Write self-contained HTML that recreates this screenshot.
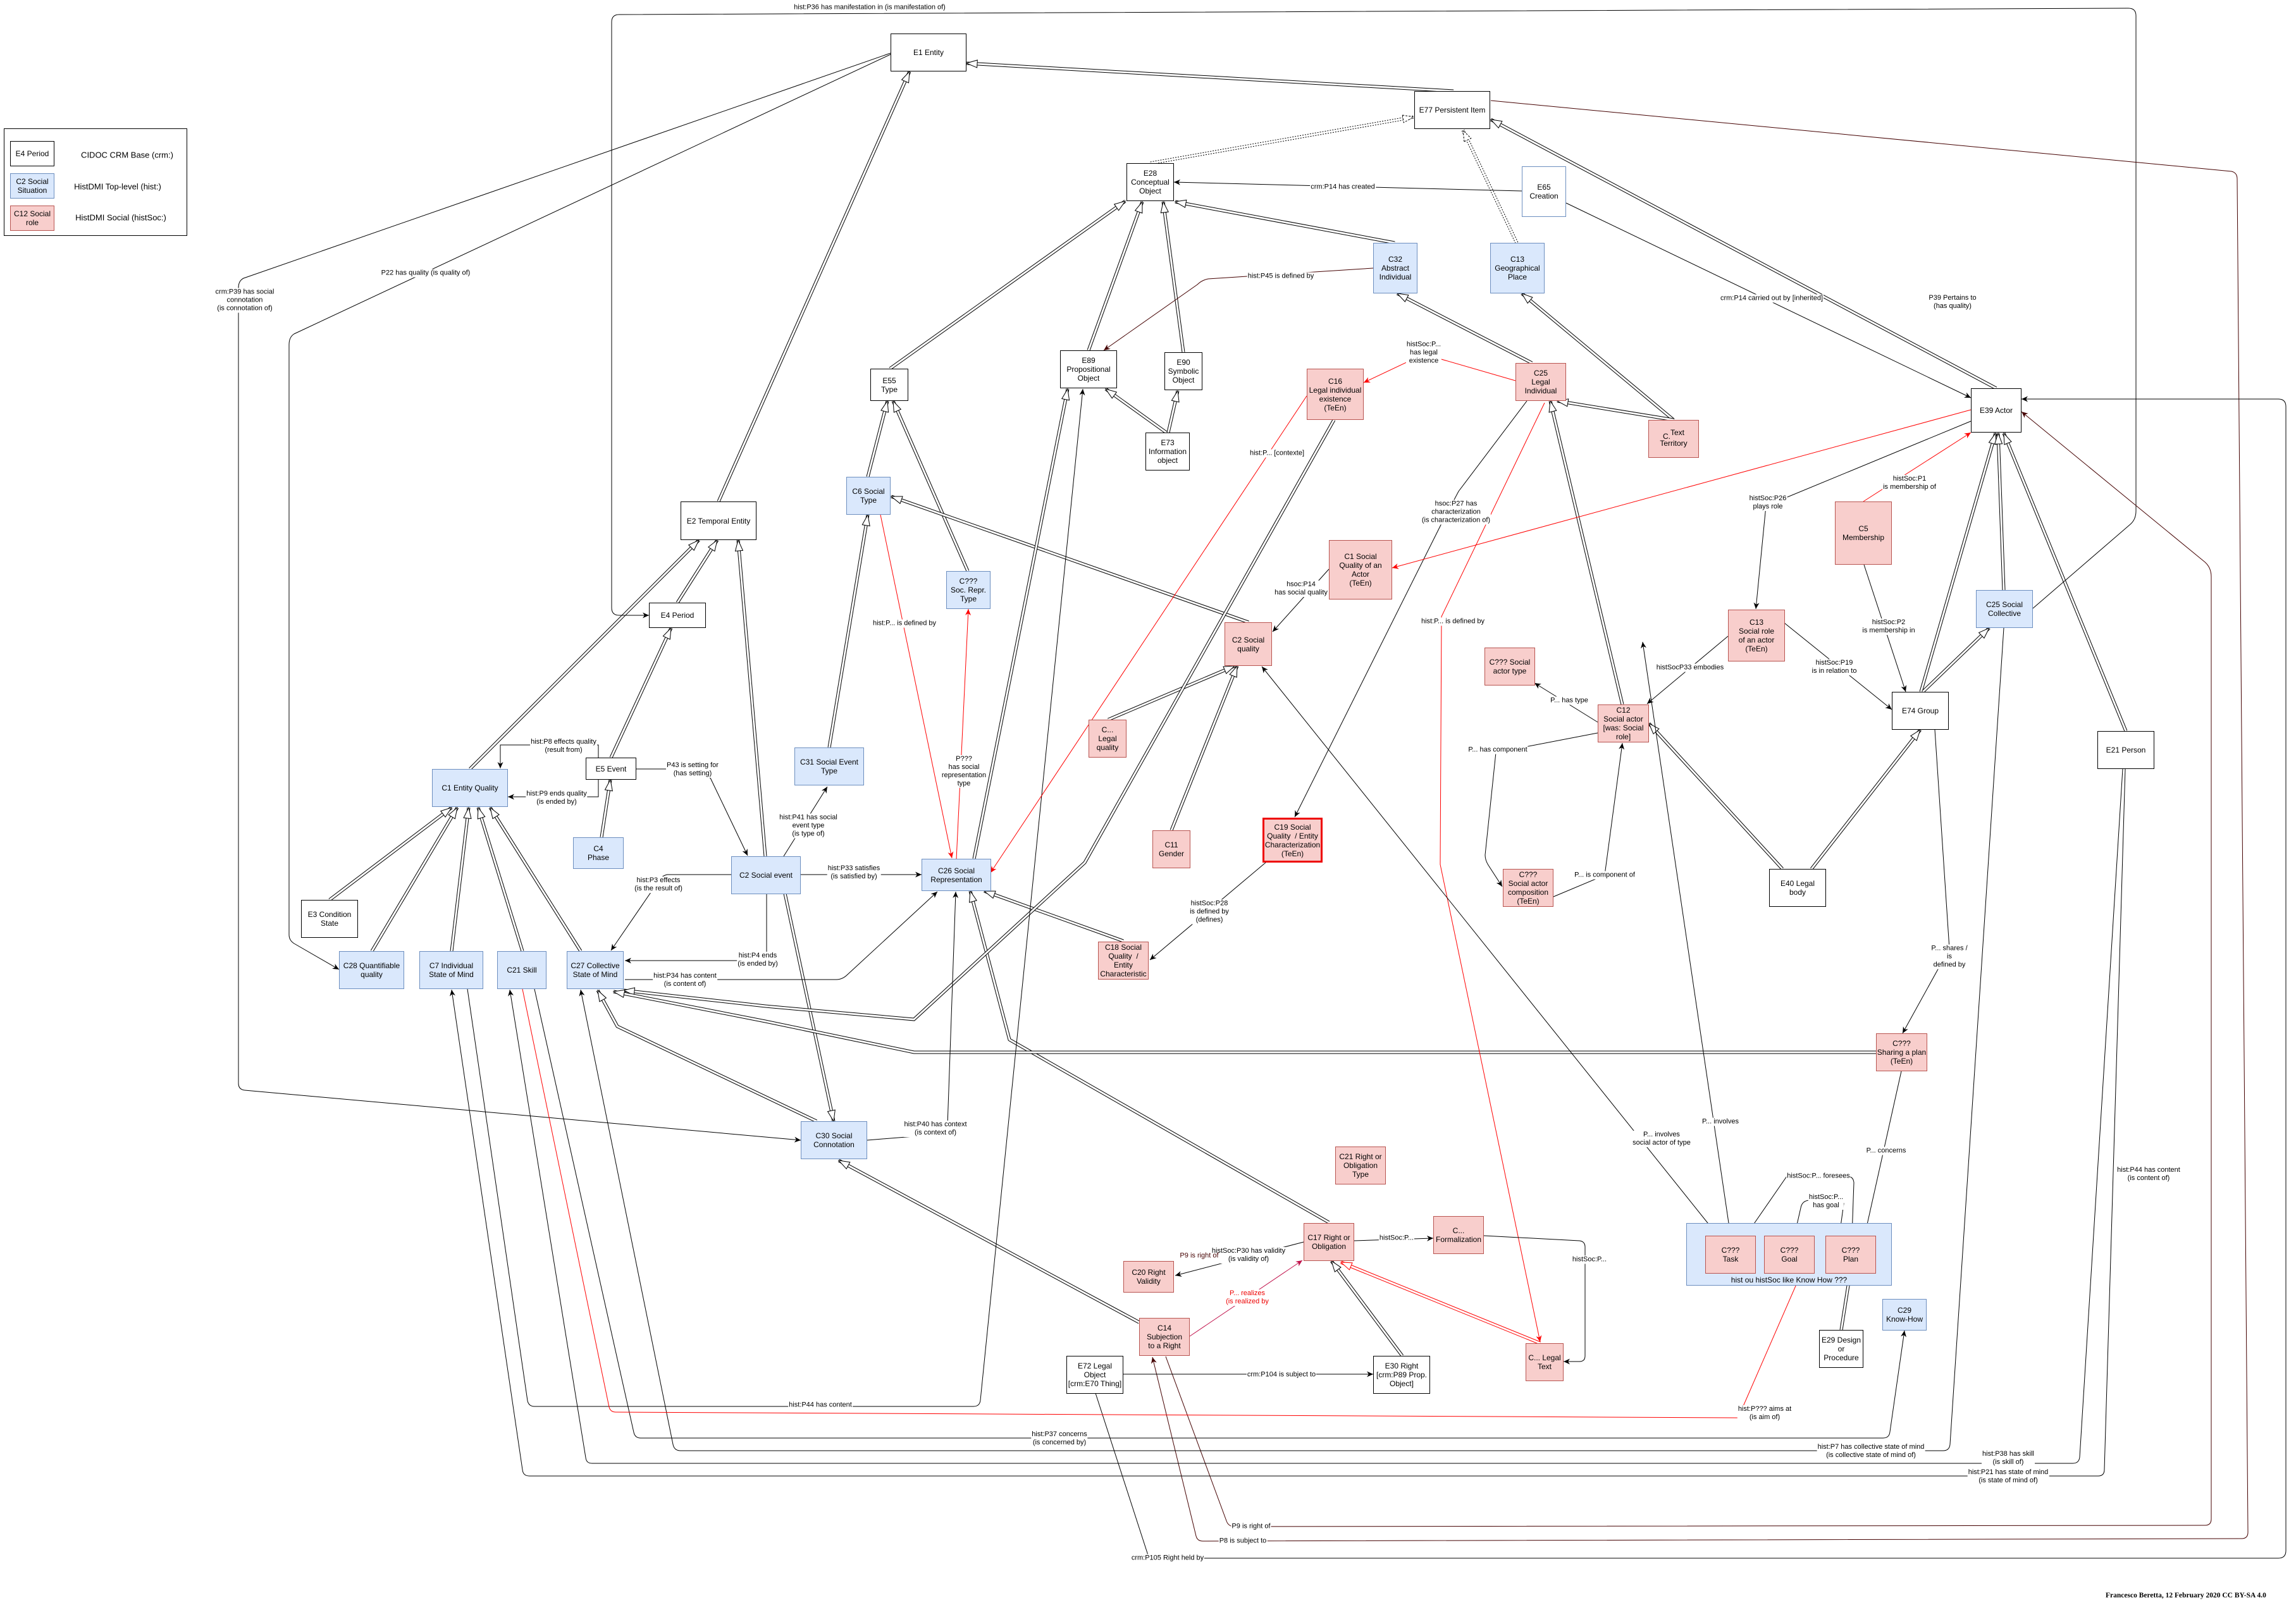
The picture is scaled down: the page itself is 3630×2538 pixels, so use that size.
<!DOCTYPE html>
<html><head><meta charset="utf-8">
<style>
html,body{margin:0;padding:0;background:#fff}
#c{position:relative;width:3630px;height:2538px;overflow:hidden;font-family:"Liberation Sans",Arial,sans-serif;background:#fff}
svg{position:absolute;left:0;top:0}
.n{position:absolute;box-sizing:border-box;border:1px solid #000;background:#fff;display:flex;align-items:center;justify-content:center;text-align:center;font-size:12px;line-height:14px;white-space:nowrap;color:#000}
.b{background:#dae8fc;border-color:#6c8ebf}
.p{background:#f8cecc;border-color:#b85450}
.l{position:absolute;transform:translate(-50%,-50%);background:#fff;font-size:11px;line-height:13px;text-align:center;white-space:nowrap;padding:0 1px;color:#000}
.t{position:absolute;transform:translate(-50%,-50%);white-space:nowrap;font-size:13px;line-height:15px}
.s{fill:none;stroke:#000;stroke-width:1}
.r{fill:none;stroke:#f00;stroke-width:1}
.dr{fill:none;stroke:#400;stroke-width:1}
.m{fill:none;stroke:#c0104a;stroke-width:1}
.d1{fill:none;stroke:#000;stroke-width:5}
.d1r{fill:none;stroke:#f00;stroke-width:5}
.dd{fill:none;stroke:#000;stroke-width:5;stroke-dasharray:2,2}
.d2{fill:none;stroke:#fff;stroke-width:3}
</style></head><body><div id="c">
<svg width="3630" height="2538" viewBox="0 0 3630 2538">
<defs>
<marker id="a" markerUnits="userSpaceOnUse" markerWidth="10" markerHeight="9" refX="10" refY="4.5" orient="auto" style="overflow:visible"><path d="M0,0L10,4.5L0,9L3,4.5z" fill="#000"/></marker>
<marker id="ar" markerUnits="userSpaceOnUse" markerWidth="10" markerHeight="9" refX="10" refY="4.5" orient="auto" style="overflow:visible"><path d="M0,0L10,4.5L0,9L3,4.5z" fill="#f00"/></marker>
<marker id="ad" markerUnits="userSpaceOnUse" markerWidth="10" markerHeight="9" refX="10" refY="4.5" orient="auto" style="overflow:visible"><path d="M0,0L10,4.5L0,9L3,4.5z" fill="#400"/></marker>
<marker id="am" markerUnits="userSpaceOnUse" markerWidth="10" markerHeight="9" refX="10" refY="4.5" orient="auto" style="overflow:visible"><path d="M0,0L10,4.5L0,9L3,4.5z" fill="#c0104a"/></marker>
<marker id="h" markerUnits="userSpaceOnUse" markerWidth="17" markerHeight="12" refX="17" refY="6" orient="auto" style="overflow:visible"><path d="M0,0L17,6L0,12z" fill="#fff" stroke="#000" stroke-width="1"/></marker>
<marker id="hr" markerUnits="userSpaceOnUse" markerWidth="17" markerHeight="12" refX="17" refY="6" orient="auto" style="overflow:visible"><path d="M0,0L17,6L0,12z" fill="#fff" stroke="#f00" stroke-width="1"/></marker>
<marker id="hd" markerUnits="userSpaceOnUse" markerWidth="17" markerHeight="12" refX="17" refY="6" orient="auto" style="overflow:visible"><path d="M0,0L17,6L0,12z" fill="#fff" stroke="#000" stroke-width="1" stroke-dasharray="3,2"/></marker>
</defs>

<!-- double (inheritance) edges -->
<path class="d1" d="M2298,144 L1528,100"/><path class="d2" d="M2298,144 L1528,100" marker-end="url(#h)"/>
<path class="d1" d="M1136,793 L1438,113"/><path class="d2" d="M1136,793 L1438,113" marker-end="url(#h)"/>
<path class="d1" d="M3156,614 L2357,189"/><path class="d2" d="M3156,614 L2357,189" marker-end="url(#h)"/>
<path class="d1" d="M1407,583 L1779,318"/><path class="d2" d="M1407,583 L1779,318" marker-end="url(#h)"/>
<path class="d1" d="M1721,554 L1806,319"/><path class="d2" d="M1721,554 L1806,319" marker-end="url(#h)"/>
<path class="d1" d="M1871,557 L1839,319"/><path class="d2" d="M1871,557 L1839,319" marker-end="url(#h)"/>
<path class="d1" d="M2205,384 L1858,319"/><path class="d2" d="M2205,384 L1858,319" marker-end="url(#h)"/>
<path class="d1" d="M1844,684 L1748,615"/><path class="d2" d="M1844,684 L1748,615" marker-end="url(#h)"/>
<path class="d1" d="M1847,684 L1862,618"/><path class="d2" d="M1847,684 L1862,618" marker-end="url(#h)"/>
<path class="d1" d="M2422,574 L2209,464"/><path class="d2" d="M2422,574 L2209,464" marker-end="url(#h)"/>
<path class="d1" d="M2646,664 L2406,464"/><path class="d2" d="M2646,664 L2406,464" marker-end="url(#h)"/>
<path class="d1" d="M2646,664 L2462,634"/><path class="d2" d="M2646,664 L2462,634" marker-end="url(#h)"/>
<path class="d1" d="M2565,1114 L2451,634"/><path class="d2" d="M2565,1114 L2451,634" marker-end="url(#h)"/>
<path class="d1" d="M1372,754 L1403,634"/><path class="d2" d="M1372,754 L1403,634" marker-end="url(#h)"/>
<path class="d1" d="M1530,903 L1412,634"/><path class="d2" d="M1530,903 L1412,634" marker-end="url(#h)"/>
<path class="d1" d="M1974,984 L1409,785"/><path class="d2" d="M1974,984 L1409,785" marker-end="url(#h)"/>
<path class="d1" d="M1311,1182 L1372,814"/><path class="d2" d="M1311,1182 L1372,814" marker-end="url(#h)"/>
<path class="d1" d="M1540,1358 L1688,615"/><path class="d2" d="M1540,1358 L1688,615" marker-end="url(#h)"/>
<path class="d1" d="M1776,1488 L1556,1409"/><path class="d2" d="M1776,1488 L1556,1409" marker-end="url(#h)"/>
<path class="d1" d="M2101,1933 L1596,1644 L1534,1409"/><path class="d2" d="M2101,1933 L1596,1644 L1534,1409" marker-end="url(#h)"/>
<path class="d1" d="M1752,1138 L1952,1053"/><path class="d2" d="M1752,1138 L1952,1053" marker-end="url(#h)"/>
<path class="d1" d="M1852,1313 L1956,1053"/><path class="d2" d="M1852,1313 L1956,1053" marker-end="url(#h)"/>
<path class="d1" d="M1801,2091 L1326,1835"/><path class="d2" d="M1801,2091 L1326,1835" marker-end="url(#h)"/>
<path class="d1" d="M1241,1413 L1318,1773"/><path class="d2" d="M1241,1413 L1318,1773" marker-end="url(#h)"/>
<path class="d1" d="M1291,1773 L976,1623 L945,1566"/><path class="d2" d="M1291,1773 L976,1623 L945,1566" marker-end="url(#h)"/>
<path class="d1" d="M2109,664 L1715,1364 L1445,1612 L1210,1591 L986,1566"/><path class="d2" d="M2109,664 L1715,1364 L1445,1612 L1210,1591 L986,1566" marker-end="url(#h)"/>
<path class="d1" d="M2966,1664 L1445,1664 L1210,1615 L970,1568"/><path class="d2" d="M2966,1664 L1445,1664 L1210,1615 L970,1568" marker-end="url(#h)"/>
<path class="d1" d="M743,1216 L1105,854"/><path class="d2" d="M743,1216 L1105,854" marker-end="url(#h)"/>
<path class="d1" d="M1071,953 L1134,854"/><path class="d2" d="M1071,953 L1134,854" marker-end="url(#h)"/>
<path class="d1" d="M1210,1354 L1167,854"/><path class="d2" d="M1210,1354 L1167,854" marker-end="url(#h)"/>
<path class="d1" d="M966,1198 L1061,993"/><path class="d2" d="M966,1198 L1061,993" marker-end="url(#h)"/>
<path class="d1" d="M951,1324 L965,1233"/><path class="d2" d="M951,1324 L965,1233" marker-end="url(#h)"/>
<path class="d1" d="M521,1423 L714,1277"/><path class="d2" d="M521,1423 L714,1277" marker-end="url(#h)"/>
<path class="d1" d="M588,1504 L723,1277"/><path class="d2" d="M588,1504 L723,1277" marker-end="url(#h)"/>
<path class="d1" d="M714,1504 L741,1277"/><path class="d2" d="M714,1504 L741,1277" marker-end="url(#h)"/>
<path class="d1" d="M826,1504 L756,1277"/><path class="d2" d="M826,1504 L756,1277" marker-end="url(#h)"/>
<path class="d1" d="M918,1504 L775,1277"/><path class="d2" d="M918,1504 L775,1277" marker-end="url(#h)"/>
<path class="d1" d="M3037,1094 L3155,685"/><path class="d2" d="M3037,1094 L3155,685" marker-end="url(#h)"/>
<path class="d1" d="M3168,933 L3159,685"/><path class="d2" d="M3168,933 L3159,685" marker-end="url(#h)"/>
<path class="d1" d="M3361,1156 L3168,685"/><path class="d2" d="M3361,1156 L3168,685" marker-end="url(#h)"/>
<path class="d1" d="M3040,1094 L3145,993"/><path class="d2" d="M3040,1094 L3145,993" marker-end="url(#h)"/>
<path class="d1" d="M2864,1374 L3036,1154"/><path class="d2" d="M2864,1374 L3036,1154" marker-end="url(#h)"/>
<path class="d1" d="M2818,1374 L2607,1144"/><path class="d2" d="M2818,1374 L2607,1144" marker-end="url(#h)"/>
<path class="d1" d="M2217,2144 L2105,1994"/><path class="d2" d="M2217,2144 L2105,1994" marker-end="url(#h)"/>
<path class="d1r" d="M2435,2124 L2120,1996"/><path class="d2" d="M2435,2124 L2120,1996" marker-end="url(#hr)"/>
<path class="d1" d="M2911,2103 L2925,2014"/><path class="d2" d="M2911,2103 L2925,2014" marker-end="url(#h)"/>
<path class="dd" d="M1819,258 L2235,185"/><path class="d2" d="M1819,258 L2235,185" marker-end="url(#hd)"/>
<path class="dd" d="M2398,384 L2313,206"/><path class="d2" d="M2398,384 L2313,206" marker-end="url(#hd)"/>

<!-- single edges -->
<path class="s" d="M3214,962 L3367,830 Q3377,822 3377,808 L3377,25 Q3377,13 3365,13 L979,23 Q967,23 967,35 L967,961 Q967,973 979,973 L1026,973" marker-end="url(#a)"/>
<path class="s" d="M1408,84 L385,440 Q377,444 377,455 L377,1713 Q377,1723 387,1724 L1266,1803" marker-end="url(#a)"/>
<path class="s" d="M1408,86 L465,528 Q457,533 457,545 L457,1478 Q457,1487 465,1492 L536,1533" marker-end="url(#a)"/>
<path class="dr" d="M2357,159 L3528,271 Q3537,273 3537,283 L3554,2423 Q3554,2433 3544,2433 L1902,2437 Q1893,2437 1891,2429 L1822,2146" marker-end="url(#ad)"/>
<path class="dr" d="M1843,2145 L1939,2405 Q1942,2414 1952,2414 L3486,2412 Q3496,2412 3496,2402 L3496,912 Q3496,897 3485,888 L3196,651" marker-end="url(#ad)"/>
<path class="s" d="M1732,2203 L1814,2456 Q1816,2464 1825,2464 L3602,2464 Q3614,2464 3614,2452 L3614,643 Q3614,631 3602,631 L3196,631" marker-end="url(#a)"/>
<path class="s" d="M739,1564 L834,2215 Q836,2224 845,2224 L1539,2224 Q1549,2224 1550,2214 L1712,615" marker-end="url(#a)"/>
<path class="s" d="M3360,1216 L3327,2324 Q3327,2334 3317,2334 L837,2334 Q827,2334 826,2324 L714,1565" marker-end="url(#a)"/>
<path class="s" d="M3356,1216 L3288,2304 Q3287,2314 3277,2314 L936,2314 Q927,2314 926,2305 L806,1565" marker-end="url(#a)"/>
<path class="s" d="M3168,993 L3083,2284 Q3082,2294 3072,2294 L1076,2294 Q1066,2294 1064,2284 L918,1565" marker-end="url(#a)"/>
<path class="s" d="M845,1564 L1002,2265 Q1004,2274 1013,2274 L2977,2274 Q2987,2274 2988,2264 L3011,2104" marker-end="url(#a)"/>
<path class="r" d="M826,1564 L963,2225 Q965,2233 974,2233 L2748,2242 L2847,2015" marker-end="url(#ar)"/>
<path class="s" d="M2406,302 L1856,288" marker-end="url(#a)"/>
<path class="s" d="M2476,321 L3116,629" marker-end="url(#a)"/>
<path class="dr" d="M2171,424 L1910,441 Q1900,443 1893,450 L1745,554" marker-end="url(#ad)"/>
<path class="r" d="M2396,602 L2251,560 L2156,605" marker-end="url(#ar)"/>
<path class="r" d="M2066,626 L1566,1380" marker-end="url(#ar)"/>
<path class="s" d="M2414,634 L2306,777 L2279,828 L2047,1292" marker-end="url(#a)"/>
<path class="r" d="M2442,637 L2279,975 L2277,1367 L2435,2122" marker-end="url(#ar)"/>
<path class="s" d="M2101,900 L2012,999" marker-end="url(#a)"/>
<path class="r" d="M3116,648 L2201,898" marker-end="url(#ar)"/>
<path class="s" d="M2001,1364 L1818,1518" marker-end="url(#a)"/>
<path class="s" d="M2716,1954 L1995,1054" marker-end="url(#a)"/>
<path class="s" d="M2736,1954 L2597,1015" marker-end="url(#a)"/>
<path class="s" d="M2526,1142 L2426,1080" marker-end="url(#a)"/>
<path class="s" d="M2526,1159 L2365,1190 L2348,1352 Q2348,1360 2353,1368 L2375,1402" marker-end="url(#a)"/>
<path class="s" d="M2456,1418 L2537,1384 L2565,1175" marker-end="url(#a)"/>
<path class="s" d="M2732,1006 L2604,1113" marker-end="url(#a)"/>
<path class="s" d="M2821,985 L2991,1122" marker-end="url(#a)"/>
<path class="s" d="M3116,666 L2792,800 L2776,963" marker-end="url(#a)"/>
<path class="r" d="M2946,793 L3116,684" marker-end="url(#ar)"/>
<path class="s" d="M2947,893 L3013,1094" marker-end="url(#a)"/>
<path class="s" d="M3059,1154 L3082,1500 L3008,1634" marker-end="url(#a)"/>
<path class="s" d="M3006,1694 L2948,1954" marker-end="url(#a)"/>
<path class="s" d="M2928,1954 L2931,1870 Q2930,1860 2920,1860 L2825,1860 L2760,1954" marker-end="url(#a)"/>
<path class="s" d="M2908,1954 L2915,1903 L2860,1898 Q2849,1899 2847,1910 L2837,1954" marker-end="url(#a)"/>
<path class="s" d="M2061,1964 L1858,2017" marker-end="url(#a)"/>
<path class="s" d="M2141,1962 L2266,1958" marker-end="url(#a)"/>
<path class="s" d="M2346,1954 L2497,1962 Q2506,1963 2506,1972 L2506,2144 Q2506,2153 2497,2153 L2472,2153" marker-end="url(#a)"/>
<path class="m" d="M1881,2113 L2059,1993" marker-end="url(#am)"/>
<path class="s" d="M1776,2173 L2171,2173" marker-end="url(#a)"/>
<path class="s" d="M1239,1354 L1308,1244" marker-end="url(#a)"/>
<path class="s" d="M1266,1383 L1457,1383" marker-end="url(#a)"/>
<path class="s" d="M1006,1216 L1054,1216 L1123,1230 L1182,1353" marker-end="url(#a)"/>
<path class="s" d="M1156,1383 L1055,1383 Q1045,1385 1040,1395 L966,1503" marker-end="url(#a)"/>
<path class="s" d="M1212,1413 L1212,1519 L988,1519" marker-end="url(#a)"/>
<path class="s" d="M988,1549 L1322,1549 Q1332,1549 1340,1541 L1482,1410" marker-end="url(#a)"/>
<path class="s" d="M946,1198 L946,1178 L791,1178 L791,1215" marker-end="url(#a)"/>
<path class="s" d="M946,1233 L946,1260 L803,1260" marker-end="url(#a)"/>
<path class="r" d="M1392,814 L1505,1357" marker-end="url(#ar)"/>
<path class="r" d="M1512,1359 L1531,963" marker-end="url(#ar)"/>
<path class="s" d="M1371,1803 L1445,1797 L1498,1780 L1511,1410" marker-end="url(#a)"/>
</svg>

<!-- legend -->
<div style="position:absolute;left:6px;top:203px;width:290px;height:170px;border:1px solid #000;box-sizing:border-box"></div>
<div class="n" style="left:16px;top:223px;width:70px;height:40px">E4 Period</div>
<div class="n b" style="left:16px;top:274px;width:70px;height:40px">C2 Social<br>Situation</div>
<div class="n p" style="left:16px;top:325px;width:70px;height:40px">C12 Social<br>role</div>
<div class="t" style="left:201px;top:245px">CIDOC CRM Base (crm:)</div>
<div class="t" style="left:186px;top:295px">HistDMI Top-level (hist:)</div>
<div class="t" style="left:191px;top:344px">HistDMI Social (histSoc:)</div>

<!-- container -->
<div class="n b" style="left:2666px;top:1934px;width:325px;height:99px;align-items:flex-end"><span style="margin-bottom:1px">hist ou histSoc like Know How ???</span></div>

<!-- nodes -->
<div class="n" style="left:1408px;top:53px;width:120px;height:60px">E1 Entity</div>
<div class="n" style="left:2236px;top:144px;width:120px;height:60px">E77 Persistent Item</div>
<div class="n" style="left:1781px;top:258px;width:75px;height:60px">E28<br>Conceptual<br>Object</div>
<div class="n" style="left:2406px;top:263px;width:70px;height:80px;border-color:#6c8ebf">E65<br>Creation</div>
<div class="n b" style="left:2171px;top:384px;width:70px;height:80px">C32<br>Abstract<br>Individual</div>
<div class="n b" style="left:2356px;top:384px;width:86px;height:80px">C13<br>Geographical<br>Place</div>
<div class="n" style="left:1676px;top:554px;width:90px;height:60px">E89<br>Propositional<br>Object</div>
<div class="n" style="left:1841px;top:557px;width:60px;height:60px">E90<br>Symbolic<br>Object</div>
<div class="n" style="left:1811px;top:684px;width:70px;height:60px">E73<br>Information<br>object</div>
<div class="n" style="left:1376px;top:583px;width:60px;height:51px">E55<br>Type</div>
<div class="n p" style="left:2066px;top:583px;width:90px;height:81px">C16<br>Legal individual<br>existence<br>(TeEn)</div>
<div class="n p" style="left:2396px;top:574px;width:80px;height:60px">C25<br>Legal<br>Individual</div>
<div class="n p" style="left:2606px;top:664px;width:80px;height:60px"><span><span style="position:relative;top:3px">C.</span><span style="position:relative;top:-3px">Text</span><br>Territory</span></div>
<div class="n" style="left:3116px;top:614px;width:80px;height:70px">E39 Actor</div>
<div class="n p" style="left:2901px;top:793px;width:90px;height:100px">C5<br>Membership</div>
<div class="n" style="left:1076px;top:793px;width:120px;height:61px">E2 Temporal Entity</div>
<div class="n b" style="left:1338px;top:754px;width:70px;height:60px">C6 Social<br>Type</div>
<div class="n b" style="left:1496px;top:903px;width:70px;height:60px">C???<br>Soc. Repr.<br>Type</div>
<div class="n p" style="left:2101px;top:854px;width:100px;height:94px">C1 Social<br>Quality of an<br>Actor<br>(TeEn)</div>
<div class="n p" style="left:1936px;top:984px;width:75px;height:69px">C2 Social<br>quality</div>
<div class="n p" style="left:2347px;top:1024px;width:80px;height:60px">C??? Social<br>actor type</div>
<div class="n p" style="left:2732px;top:964px;width:90px;height:82px">C13<br>Social role<br>of an actor<br>(TeEn)</div>
<div class="n b" style="left:3124px;top:933px;width:90px;height:60px">C25 Social<br>Collective</div>
<div class="n" style="left:2991px;top:1094px;width:90px;height:60px">E74 Group</div>
<div class="n p" style="left:2526px;top:1114px;width:81px;height:60px">C12<br>Social actor<br>[was: Social<br>role]</div>
<div class="n" style="left:3316px;top:1156px;width:90px;height:60px">E21 Person</div>
<div class="n" style="left:1026px;top:953px;width:90px;height:40px">E4 Period</div>
<div class="n" style="left:926px;top:1198px;width:80px;height:35px">E5 Event</div>
<div class="n b" style="left:683px;top:1216px;width:120px;height:60px">C1 Entity Quality</div>
<div class="n b" style="left:1256px;top:1182px;width:110px;height:60px">C31 Social Event<br>Type</div>
<div class="n p" style="left:1721px;top:1138px;width:60px;height:60px">C...<br>Legal<br>quality</div>
<div class="n p" style="left:1822px;top:1313px;width:60px;height:60px">C11<br>Gender</div>
<div class="n p" style="left:1996px;top:1293px;width:95px;height:71px;border:3px solid #e00">C19 Social<br>Quality &nbsp;/ Entity<br>Characterization<br>(TeEn)</div>
<div class="n b" style="left:906px;top:1324px;width:80px;height:50px">C4<br>Phase</div>
<div class="n b" style="left:1156px;top:1354px;width:110px;height:60px">C2 Social event</div>
<div class="n b" style="left:1457px;top:1358px;width:110px;height:51px">C26 Social<br>Representation</div>
<div class="n p" style="left:2376px;top:1374px;width:80px;height:60px">C???<br>Social actor<br>composition<br>(TeEn)</div>
<div class="n" style="left:2797px;top:1374px;width:90px;height:60px">E40 Legal<br>body</div>
<div class="n" style="left:476px;top:1423px;width:90px;height:60px">E3 Condition<br>State</div>
<div class="n b" style="left:536px;top:1504px;width:103px;height:60px">C28 Quantifiable<br>quality</div>
<div class="n b" style="left:663px;top:1504px;width:101px;height:60px">C7 Individual<br>State of Mind</div>
<div class="n b" style="left:786px;top:1504px;width:78px;height:60px">C21 Skill</div>
<div class="n b" style="left:896px;top:1504px;width:90px;height:60px">C27 Collective<br>State of Mind</div>
<div class="n p" style="left:1736px;top:1489px;width:80px;height:60px">C18 Social<br>Quality &nbsp;/<br>Entity<br>Characteristic</div>
<div class="n p" style="left:2966px;top:1634px;width:81px;height:60px">C???<br>Sharing a plan<br>(TeEn)</div>
<div class="n b" style="left:1266px;top:1773px;width:105px;height:60px">C30 Social<br>Connotation</div>
<div class="n p" style="left:2111px;top:1813px;width:80px;height:60px">C21 Right or<br>Obligation<br>Type</div>
<div class="n p" style="left:2061px;top:1934px;width:80px;height:60px">C17 Right or<br>Obligation</div>
<div class="n p" style="left:2266px;top:1923px;width:80px;height:60px">C...<br>Formalization</div>
<div class="n p" style="left:1776px;top:1994px;width:80px;height:50px">C20 Right<br>Validity</div>
<div class="n p" style="left:1801px;top:2084px;width:80px;height:60px">C14<br>Subjection<br>to a Right</div>
<div class="n" style="left:1686px;top:2144px;width:90px;height:60px">E72 Legal<br>Object<br>[crm:E70 Thing]</div>
<div class="n" style="left:2171px;top:2144px;width:90px;height:60px">E30 Right<br>[crm:P89 Prop.<br>Object]</div>
<div class="n p" style="left:2412px;top:2124px;width:60px;height:60px">C... Legal<br>Text</div>
<div class="n p" style="left:2696px;top:1954px;width:80px;height:60px">C???<br>Task</div>
<div class="n p" style="left:2789px;top:1954px;width:80px;height:60px">C???<br>Goal</div>
<div class="n p" style="left:2886px;top:1954px;width:80px;height:60px">C???<br>Plan</div>
<div class="n b" style="left:2976px;top:2054px;width:70px;height:50px">C29<br>Know-How</div>
<div class="n" style="left:2876px;top:2103px;width:70px;height:60px">E29 Design<br>or<br>Procedure</div>

<!-- edge labels -->
<div class="l" style="left:1375px;top:12px;background:none">hist:P36 has manifestation in (is manifestation of)</div>
<div class="l" style="left:387px;top:475px">crm:P39 has social<br>connotation<br>(is connotation of)</div>
<div class="l" style="left:673px;top:432px">P22 has quality (is quality of)</div>
<div class="l" style="left:2123px;top:296px">crm:P14 has created</div>
<div class="l" style="left:2025px;top:437px">hist:P45 is defined by</div>
<div class="l" style="left:2801px;top:472px">crm:P14 carried out by [inherited]</div>
<div class="l" style="left:3087px;top:478px">P39 Pertains to<br>(has quality)</div>
<div class="l" style="left:2251px;top:558px">histSoc:P...<br>has legal<br>existence</div>
<div class="l" style="left:2019px;top:717px">hist:P... [contexte]</div>
<div class="l" style="left:2302px;top:810px">hsoc:P27 has<br>characterization<br>(is characterization of)</div>
<div class="l" style="left:3019px;top:764px">histSoc:P1<br>is membership of</div>
<div class="l" style="left:2795px;top:795px">histSoc:P26<br>plays role</div>
<div class="l" style="left:2057px;top:931px">hsoc:P14<br>has social quality</div>
<div class="l" style="left:2297px;top:983px">hist:P... is defined by</div>
<div class="l" style="left:1430px;top:986px">hist:P... is defined by</div>
<div class="l" style="left:2986px;top:991px">histSoc:P2<br>is membership in</div>
<div class="l" style="left:2672px;top:1056px">histSocP33 embodies</div>
<div class="l" style="left:2900px;top:1055px">histSoc:P19<br>is in relation to</div>
<div class="l" style="left:2481px;top:1108px">P... has type</div>
<div class="l" style="left:2368px;top:1186px">P... has component</div>
<div class="l" style="left:891px;top:1180px">hist:P8 effects quality<br>(result from)</div>
<div class="l" style="left:1095px;top:1217px">P43 is setting for<br>(has setting)</div>
<div class="l" style="left:880px;top:1262px">hist:P9 ends quality<br>(is ended by)</div>
<div class="l" style="left:1524px;top:1220px">P???<br>has social<br>representation<br>type</div>
<div class="l" style="left:1278px;top:1306px">hist:P41 has social<br>event type<br>(is type of)</div>
<div class="l" style="left:1350px;top:1380px">hist:P33 satisfies<br>(is satisfied by)</div>
<div class="l" style="left:2537px;top:1384px">P... is component of</div>
<div class="l" style="left:1041px;top:1399px">hist:P3 effects<br>(is the result of)</div>
<div class="l" style="left:1912px;top:1442px">histSoc:P28<br>is defined by<br>(defines)</div>
<div class="l" style="left:3082px;top:1513px">P... shares /<br>is<br>defined by</div>
<div class="l" style="left:1198px;top:1518px">hist:P4 ends<br>(is ended by)</div>
<div class="l" style="left:1083px;top:1550px">hist:P34 has content<br>(is content of)</div>
<div class="l" style="left:2720px;top:1774px">P... involves</div>
<div class="l" style="left:1479px;top:1785px">hist:P40 has context<br>(is context of)</div>
<div class="l" style="left:2627px;top:1801px">P... involves<br>social actor of type</div>
<div class="l" style="left:2982px;top:1820px">P... concerns</div>
<div class="l" style="left:3397px;top:1857px">hist:P44 has content<br>(is content of)</div>
<div class="l" style="left:2875px;top:1860px">histSoc:P... foresees</div>
<div class="l" style="left:2887px;top:1900px">histSoc:P...<br>has goal</div>
<div class="l" style="left:2208px;top:1958px">histSoc:P...</div>
<div class="l" style="left:1974px;top:1985px">histSoc:P30 has validity<br>(is validity of)</div>
<div class="l" style="left:1896px;top:1986px;background:none;color:#400">P9 is right of</div>
<div class="l" style="left:2513px;top:1992px">histSoc:P...</div>
<div class="l" style="left:1972px;top:2052px;color:#e00">P... realizes<br>(is realized by</div>
<div class="l" style="left:2026px;top:2174px">crm:P104 is subject to</div>
<div class="l" style="left:1297px;top:2222px">hist:P44 has content</div>
<div class="l" style="left:2790px;top:2235px">hist:P??? aims at<br>(is aim of)</div>
<div class="l" style="left:1675px;top:2275px">hist:P37 concerns<br>(is concerned by)</div>
<div class="l" style="left:2958px;top:2295px">hist:P7 has collective state of mind<br>(is collective state of mind of)</div>
<div class="l" style="left:3175px;top:2306px">hist:P38 has skill<br>(is skill of)</div>
<div class="l" style="left:3175px;top:2335px">hist:P21 has state of mind<br>(is state of mind of)</div>
<div class="l" style="left:1978px;top:2414px">P9 is right of</div>
<div class="l" style="left:1965px;top:2437px">P8 is subject to</div>
<div class="l" style="left:1846px;top:2464px">crm:P105 Right held by</div>

<div style="position:absolute;left:3329px;top:2516px;font:bold 11.5px/14px 'Liberation Serif',serif;white-space:nowrap;color:#000">Francesco Beretta, 12 February 2020 CC BY-SA 4.0</div>
</div></body></html>
